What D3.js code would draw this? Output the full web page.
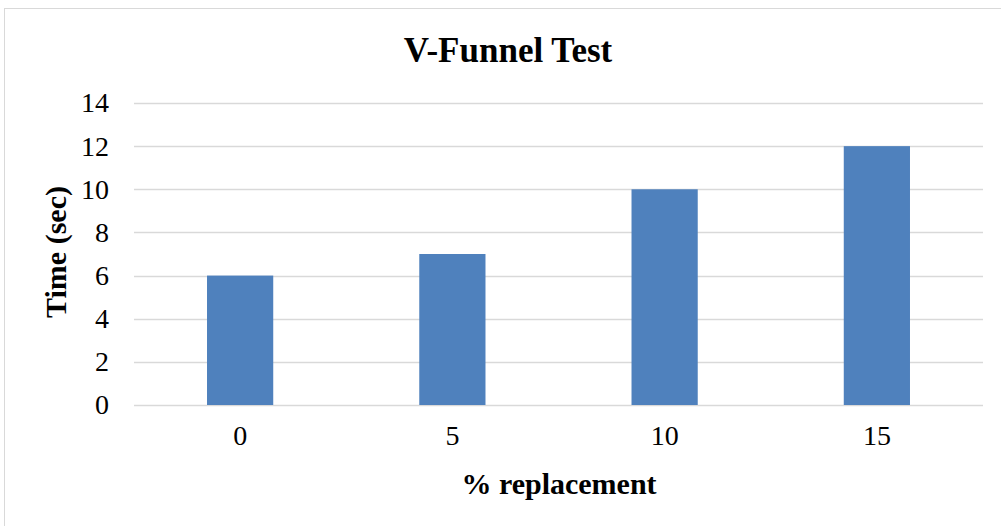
<!DOCTYPE html>
<html>
<head>
<meta charset="utf-8">
<script src="https://cdn.jsdelivr.net/npm/d3@7"></script>
<style>
  body { margin: 0; background: #fff; }
  svg { display: block; font-family: "Liberation Serif", "Times New Roman", serif; }
</style>
</head>
<body>
<div id="chart"></div>
<script>
// chart data
var categories = ["0", "5", "10", "15"];
var times = [6, 7, 10, 12];
var yTicks = [0, 2, 4, 6, 8, 10, 12, 14];

var W = 1001, H = 526;
var margin = {top: 103, right: 18, bottom: 121, left: 134},
    width = W - margin.left - margin.right,
    height = H - margin.top - margin.bottom;

var svg = d3.select("#chart")
  .append("svg")
    .attr("width", W)
    .attr("height", H);

// outer frame (only top/left visible in the reference)
svg.append("rect")
  .attr("x", 4.5).attr("y", 8.5)
  .attr("width", W + 10).attr("height", H + 10)
  .attr("fill", "none")
  .attr("stroke", "#d9d9d9")
  .attr("stroke-width", 1);

var g = svg.append("g")
  .attr("transform", "translate(" + margin.left + "," + margin.top + ")");

var x = d3.scaleBand()
  .domain(categories)
  .range([0, width])
  .paddingInner(0.688)
  .paddingOuter(0.344);

var y = d3.scaleLinear()
  .domain([0, 14])
  .range([height, 0]);

// gridlines
g.selectAll(".grid")
  .data(yTicks)
  .enter()
  .append("line")
    .attr("x1", 0)
    .attr("x2", width)
    .attr("y1", function(d) { return Math.round(y(d)) + 0.5; })
    .attr("y2", function(d) { return Math.round(y(d)) + 0.5; })
    .attr("stroke", "#d9d9d9")
    .attr("stroke-width", 1.5);

// bars
g.selectAll(".bar")
  .data(times)
  .enter()
  .append("rect")
    .attr("x", function(d, i) { return x(categories[i]); })
    .attr("y", function(d) { return y(d); })
    .attr("width", x.bandwidth())
    .attr("height", function(d) { return height - y(d); })
    .attr("fill", "#4f81bd");

// y axis labels
var yAxis = g.append("g")
  .call(d3.axisLeft(y).tickValues(yTicks).tickSize(0).tickPadding(25));
yAxis.select(".domain").remove();
yAxis.selectAll("text")
  .style("font-family", "'Liberation Serif', serif")
  .style("font-size", "28px")
  .attr("fill", "#000");

// x axis labels
var xAxis = g.append("g")
  .attr("transform", "translate(0," + height + ")")
  .call(d3.axisBottom(x).tickSize(0).tickPadding(20));
xAxis.select(".domain").remove();
xAxis.selectAll("text")
  .style("font-family", "'Liberation Serif', serif")
  .style("font-size", "28px")
  .attr("fill", "#000");

// title
svg.append("text")
  .attr("x", 508)
  .attr("y", 62)
  .attr("text-anchor", "middle")
  .style("font-size", "35px")
  .attr("font-weight", "bold")
  .text("V-Funnel Test");

// axis titles
svg.append("text")
  .attr("x", 559)
  .attr("y", 494)
  .attr("text-anchor", "middle")
  .style("font-size", "30px")
  .attr("font-weight", "bold")
  .text("% replacement");

svg.append("text")
  .attr("transform", "translate(66,252) rotate(-90)")
  .attr("text-anchor", "middle")
  .style("font-size", "30px")
  .attr("font-weight", "bold")
  .text("Time (sec)");
</script>
</body>
</html>
